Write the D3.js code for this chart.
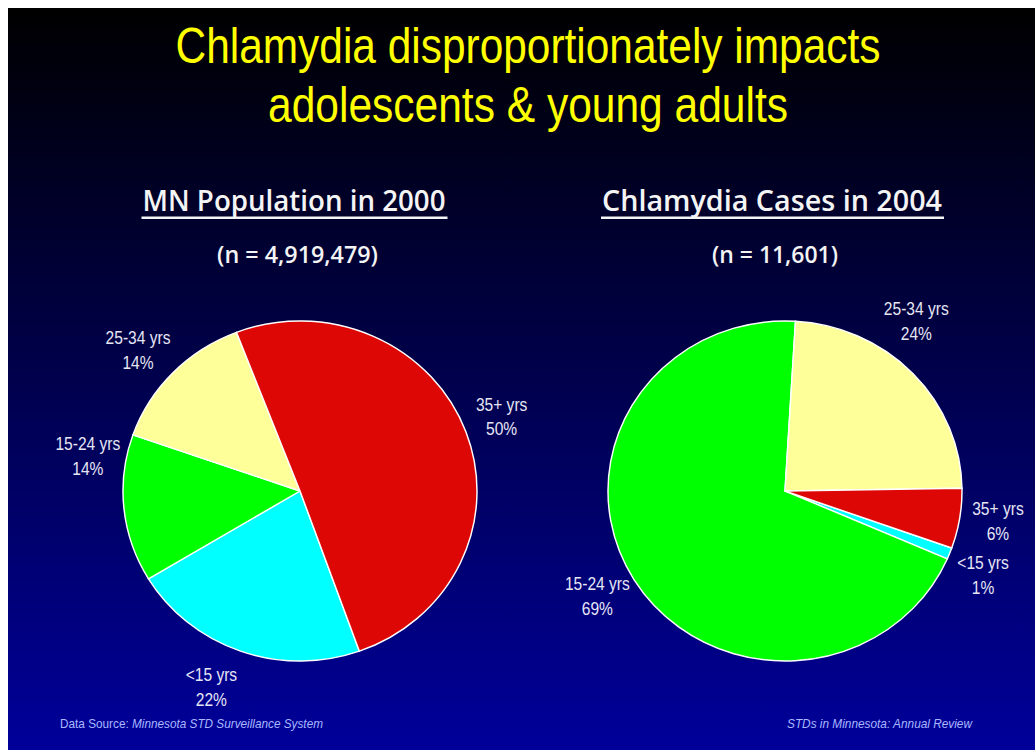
<!DOCTYPE html>
<html>
<head>
<meta charset="utf-8">
<script src="https://cdn.jsdelivr.net/npm/d3@7"></script>
<style>
  html, body { margin: 0; padding: 0; background: #fff; }
  svg { display: block; }
</style>
</head>
<body>
<div id="chart"></div>
<script>
// age groups, in the clockwise order the slices are drawn
const ageGroups = ['<15 yrs', '15-24 yrs', '25-34 yrs', '35+ yrs'];
const sliceColors = ['#00ffff', '#00ff00', '#ffff99', '#dd0806'];

// percent shares
const popShares = [21.8, 14.0, 13.8, 50.4];
const caseShares = [1.1, 69.4, 23.8, 5.7];

const panelTitles = ['MN Population in 2000', 'Chlamydia Cases in 2004'];
const panelCounts = ['(n = 4,919,479)', '(n = 11,601)'];
const titleLines = ['Chlamydia disproportionately impacts', 'adolescents & young adults'];

let width = 1035,
    height = 750,
    sans = '"Liberation Sans", Arial, sans-serif',
    squeeze = 0.82,   // fake a narrow face by squeezing Liberation Sans
    labelColor = '#e6e6f4';

let svg = d3.select('#chart').append('svg')
    .attr('width', width)
    .attr('height', height);

let grad = svg.append('defs').append('linearGradient')
    .attr('id', 'bg')
    .attr('x1', 0).attr('y1', 0).attr('x2', 0).attr('y2', 1);
grad.append('stop').attr('offset', '0%').attr('stop-color', '#000000');
grad.append('stop').attr('offset', '100%').attr('stop-color', '#00009a');

svg.append('rect')
    .attr('x', 8).attr('y', 8)
    .attr('width', width - 8).attr('height', height - 8)
    .attr('fill', 'url(#bg)');

// main title
svg.selectAll('.title')
    .data(titleLines)
    .enter().append('text')
    .attr('class', 'title')
    .attr('x', 528)
    .attr('y', (d, i) => 63 + i * 59)
    .attr('text-anchor', 'middle')
    .attr('textLength', (d, i) => [705, 520][i])
    .attr('lengthAdjust', 'spacingAndGlyphs')
    .style('font-family', sans)
    .style('font-size', '50px')
    .style('fill', '#ffff00')
    .text(d => d);

let panels = [
    {shares: popShares, cx: 300, start: 160.4, titleW: 303, countW: 161, tx: 294, nx: 297.5,
        nudge: [4.7, 15.3, -3, 0]},
    {shares: caseShares, cx: 785, start: 109.6, titleW: 340, countW: 126, tx: 772, nx: 775,
        nudge: [1.3, 2.3, -8.6, -1.4]}
];

let cy = 491,
    ry = 170,
    rx = 177,
    labelR = 215;

panels.forEach(function (p, k) {
    let g = svg.append('g');

    // panel heading + underline
    g.append('text')
        .attr('x', p.tx)
        .attr('y', 211)
        .attr('text-anchor', 'middle')
        .attr('textLength', p.titleW)
        .attr('lengthAdjust', 'spacingAndGlyphs')
        .style('font-family', '"Open Sans", "DejaVu Sans", sans-serif')
        .style('font-weight', 600)
        .style('font-size', '28px')
        .style('fill', '#f4f4f4')
        .text(panelTitles[k]);

    g.append('rect')
        .attr('x', p.tx - p.titleW / 2 - 1)
        .attr('y', 216.5)
        .attr('width', p.titleW + 3)
        .attr('height', 2.5)
        .attr('fill', '#f4f4f4');

    g.append('text')
        .attr('x', p.nx)
        .attr('y', 263)
        .attr('text-anchor', 'middle')
        .attr('textLength', p.countW)
        .attr('lengthAdjust', 'spacingAndGlyphs')
        .style('font-family', '"Open Sans", "DejaVu Sans", sans-serif')
        .style('font-weight', 600)
        .style('font-size', '24px')
        .style('fill', '#f4f4f4')
        .text(panelCounts[k]);

    let a0 = p.start * Math.PI / 180;
    let pie = d3.pie()
        .sort(null)
        .startAngle(a0)
        .endAngle(a0 + 2 * Math.PI);

    let arc = d3.arc().innerRadius(0).outerRadius(ry);
    let arcs = pie(p.shares);

    // pie is a little wider than tall
    let pieG = g.append('g')
        .attr('transform', `translate(${p.cx}, ${cy}) scale(${rx / ry}, 1)`);

    pieG.selectAll('path')
        .data(arcs)
        .enter().append('path')
        .attr('d', arc)
        .attr('fill', (d, i) => sliceColors[i])
        .attr('stroke', '#ffffff')
        .attr('stroke-width', 1.4);

    let lab = g.selectAll('.lab')
        .data(arcs)
        .enter().append('text')
        .attr('class', 'lab')
        .attr('text-anchor', 'middle')
        .style('font-family', sans)
        .style('font-size', '19px')
        .style('fill', labelColor)
        .attr('transform', function (d, i) {
            let m = (d.startAngle + d.endAngle) / 2 + p.nudge[i] * Math.PI / 180;
            let x = p.cx + labelR * Math.sin(m),
                y = cy - labelR * Math.cos(m);
            return `translate(${x}, ${y}) scale(${squeeze}, 1)`;
        });

    lab.append('tspan')
        .attr('x', 0)
        .attr('y', -5.5)
        .text((d, i) => ageGroups[i]);

    lab.append('tspan')
        .attr('x', 0)
        .attr('y', 19)
        .text(d => Math.round(d.data) + '%');
});

// footer
let foot = svg.append('text')
    .attr('x', 60)
    .attr('y', 728)
    .attr('textLength', 263)
    .attr('lengthAdjust', 'spacingAndGlyphs')
    .style('font-family', sans)
    .style('font-size', '13px')
    .style('fill', '#a9b8ff');
foot.append('tspan').text('Data Source: ');
foot.append('tspan').style('font-style', 'italic').text('Minnesota STD Surveillance System');

svg.append('text')
    .attr('x', 972)
    .attr('y', 728)
    .attr('text-anchor', 'end')
    .attr('textLength', 185)
    .attr('lengthAdjust', 'spacingAndGlyphs')
    .style('font-family', sans)
    .style('font-size', '13px')
    .style('font-style', 'italic')
    .style('fill', '#a9b8ff')
    .text('STDs in Minnesota: Annual Review');
</script>
</body>
</html>
